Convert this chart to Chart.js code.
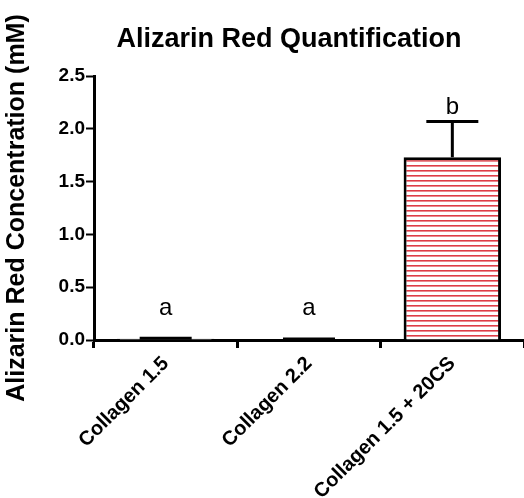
<!DOCTYPE html>
<html>
<head>
<meta charset="utf-8">
<script src="https://cdn.jsdelivr.net/npm/chart.js@4/dist/chart.umd.min.js"></script>
<style>
    html, body { margin: 0; padding: 0; background: #fff; }
    #wrap { width: 524px; height: 498px; }
</style>
</head>
<body>
<div id="wrap"><canvas id="chart" width="524" height="498"></canvas></div>
<script>
// Données du graphique
const categories = ['Collagen 1.5', 'Collagen 2.2', 'Collagen 1.5 + 20CS'];
const meanValues = [0.012, 0.006, 1.73];
const errorValues = [0.004, 0.003, 0.34];
const groupLetters = ['a', 'a', 'b'];
const letterLevels = [0.24, 0.24, 2.14];
const yTicks = [0.0, 0.5, 1.0, 1.5, 2.0, 2.5];
const chartTitle = 'Alizarin Red Quantification';

const FONT = "'Liberation Sans', Arial, sans-serif";

// Motif de hachures rouges horizontales
function makeStripePattern() {
    const c = document.createElement('canvas');
    c.width = 8;
    c.height = 5;
    const g = c.getContext('2d');
    g.fillStyle = '#ffffff';
    g.fillRect(0, 0, 8, 5);
    g.fillStyle = 'rgb(222, 60, 70)';
    g.fillRect(0, 0, 8, 1.6);
    return g.createPattern(c, 'repeat');
}
const stripes = makeStripePattern();

// Titre décalé vers la droite (comme dans l'original)
const titlePlugin = {
    id: 'shiftedTitle',
    afterDraw(chart) {
        const ctx = chart.ctx;
        ctx.save();
        ctx.fillStyle = '#000';
        ctx.font = 'bold 27px ' + FONT;
        ctx.textAlign = 'center';
        ctx.textBaseline = 'middle';
        ctx.fillText(chartTitle, chart.width / 2 + 27, 40);
        ctx.restore();
    }
};

// Barres d'erreur + lettres de significativité
const errorBarPlugin = {
    id: 'errorBars',
    afterDatasetsDraw(chart) {
        const ctx = chart.ctx;
        const meta = chart.getDatasetMeta(0);
        const yScale = chart.scales.y;
        ctx.save();
        ctx.strokeStyle = '#000';
        ctx.lineWidth = 3;
        meta.data.forEach((bar, i) => {
            const yTop = yScale.getPixelForValue(meanValues[i] + errorValues[i]);
            const yMean = yScale.getPixelForValue(meanValues[i]);
            const half = 26;
            ctx.beginPath();
            ctx.moveTo(bar.x, yMean);
            ctx.lineTo(bar.x, yTop);
            ctx.moveTo(bar.x - half, yTop);
            ctx.lineTo(bar.x + half, yTop);
            ctx.stroke();

            ctx.fillStyle = '#000';
            ctx.font = '24px ' + FONT;
            ctx.textAlign = 'center';
            ctx.textBaseline = 'alphabetic';
            ctx.fillText(groupLetters[i], bar.x, yScale.getPixelForValue(letterLevels[i]));
        });
        ctx.restore();
    }
};

const ctx = document.getElementById('chart').getContext('2d');
new Chart(ctx, {
    type: 'bar',
    data: {
        labels: categories,
        datasets: [{
            data: meanValues,
            backgroundColor: [stripes, stripes, stripes],
            borderColor: '#000',
            borderWidth: 3,
            borderSkipped: 'bottom',
            barPercentage: 0.68,
            categoryPercentage: 1.0
        }]
    },
    options: {
        responsive: false,
        animation: false,
        layout: {
            padding: { left: 0, right: 0, top: 76, bottom: 0 }
        },
        plugins: {
            legend: { display: false },
            tooltip: { enabled: false },
            title: { display: false }
        },
        scales: {
            x: {
                afterFit(scale) {
                    scale.height = 158;
                },
                grid: {
                    display: true,
                    drawOnChartArea: false,
                    drawTicks: true,
                    tickLength: 8,
                    tickWidth: 3,
                    tickColor: '#000'
                },
                border: { display: true, color: '#000', width: 3 },
                ticks: {
                    color: '#000',
                    maxRotation: 45,
                    minRotation: 45,
                    padding: 4,
                    font: { family: FONT, size: 20, weight: 'bold' }
                }
            },
            y: {
                min: 0,
                max: 2.5,
                afterFit(scale) {
                    scale.width = 94;
                },
                afterBuildTicks(scale) {
                    scale.ticks = yTicks.map(v => ({ value: v }));
                },
                grid: {
                    display: true,
                    drawOnChartArea: false,
                    drawTicks: true,
                    tickLength: 8,
                    tickWidth: 2,
                    tickColor: '#000'
                },
                border: { display: true, color: '#000', width: 3 },
                ticks: {
                    color: '#000',
                    padding: 1,
                    font: { family: FONT, size: 19, weight: 'bold' },
                    callback: v => v.toFixed(1)
                },
                title: {
                    display: true,
                    text: 'Alizarin Red Concentration (mM)',
                    color: '#000',
                    padding: { top: 2, bottom: 0 },
                    font: { family: FONT, size: 25, weight: 'bold' }
                }
            }
        }
    },
    plugins: [errorBarPlugin, titlePlugin]
});
</script>
</body>
</html>
